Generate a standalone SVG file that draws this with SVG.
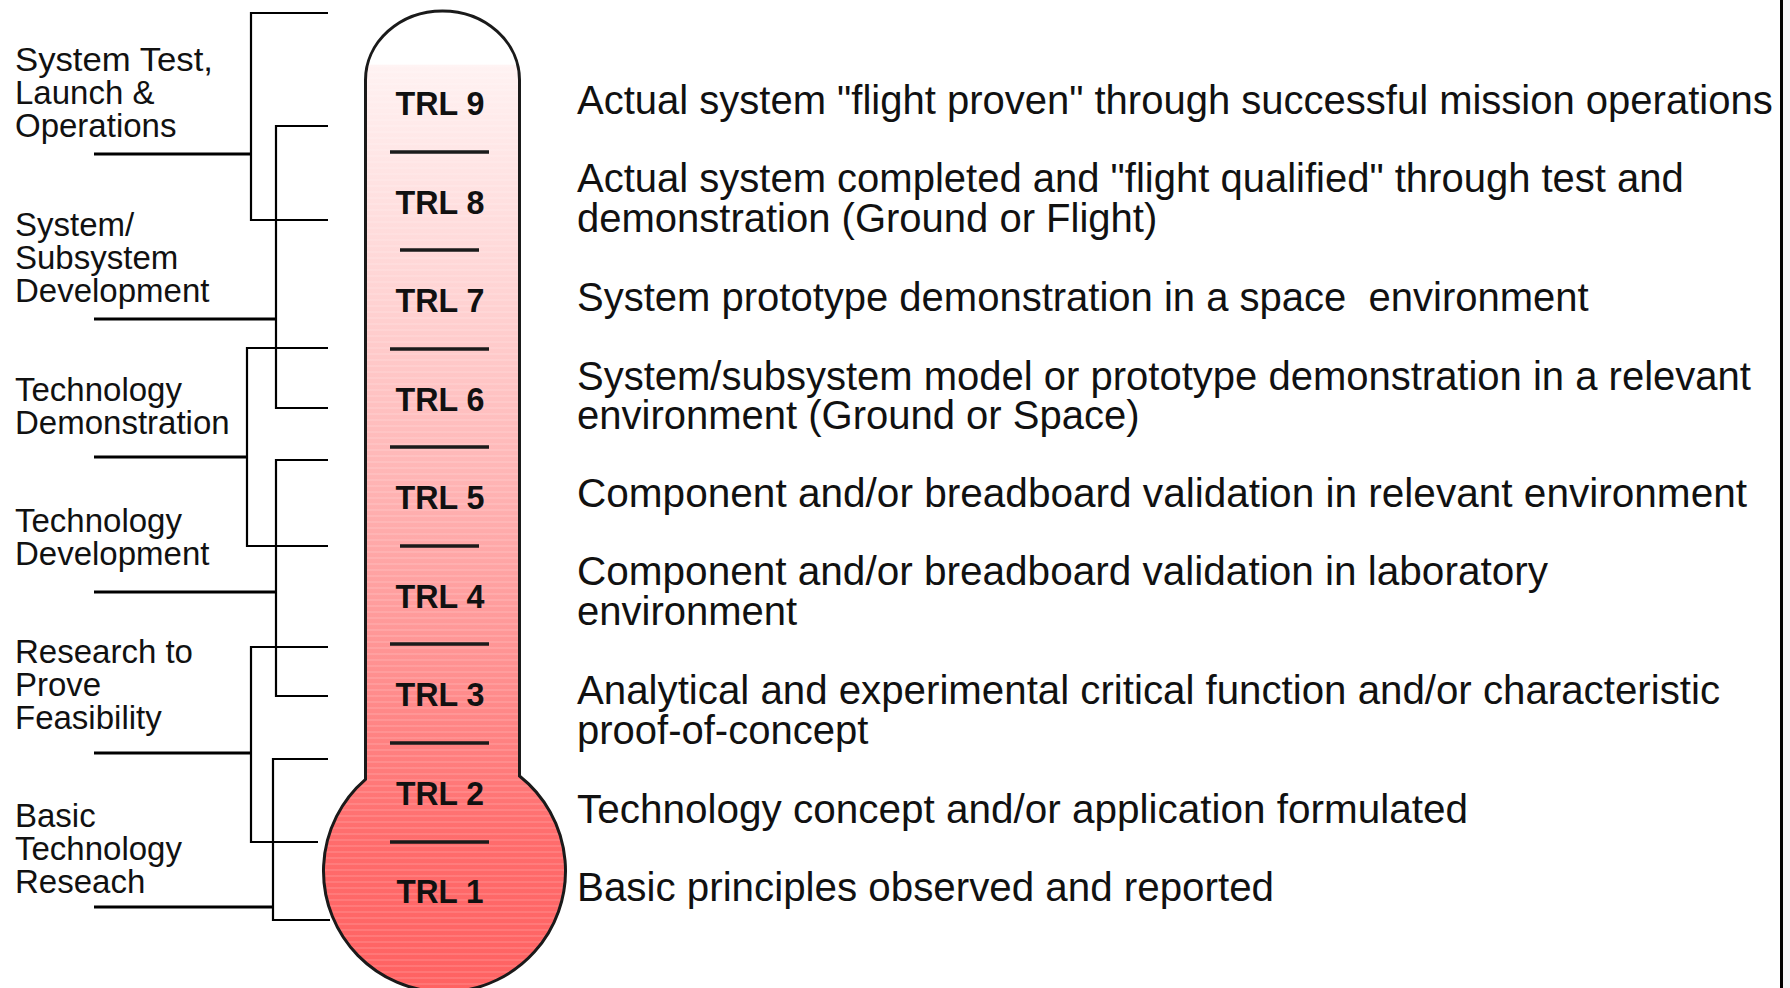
<svg xmlns="http://www.w3.org/2000/svg" width="1790" height="988" viewBox="0 0 1790 988">
<defs>
<linearGradient id="merc" gradientUnits="userSpaceOnUse" x1="0" y1="0" x2="0" y2="988">
<stop offset="0" stop-color="#ffffff"/>
<stop offset="0.065" stop-color="#ffffff"/>
<stop offset="0.066" stop-color="#fff2f2"/>
<stop offset="0.3" stop-color="#ffd3d3"/>
<stop offset="0.5" stop-color="#ffb2b2"/>
<stop offset="0.7" stop-color="#ff8c8c"/>
<stop offset="0.85" stop-color="#ff6c6c"/>
<stop offset="1" stop-color="#ff6262"/>
</linearGradient>
<pattern id="stripes" patternUnits="userSpaceOnUse" x="0" y="65" width="10" height="6">
<rect x="0" y="0" width="10" height="2" fill="#ffffff" opacity="0.12"/>
</pattern>
</defs>
<style>
.lab{font-family:"Liberation Sans",Arial,sans-serif;font-size:33px;fill:#111}
.desc{font-family:"Liberation Sans",Arial,sans-serif;font-size:40px;fill:#111}
.trl{font-family:"Liberation Sans",Arial,sans-serif;font-size:33px;font-weight:bold;fill:#111;text-anchor:middle}
.br{stroke:#000;stroke-width:2.2;fill:none}
.ll{stroke:#000;stroke-width:3.2;fill:none}
.div{stroke:#1a1a1a;stroke-width:3.5}
</style>
<rect x="0" y="0" width="1790" height="988" fill="#ffffff"/>
<rect x="1783" y="0" width="7" height="988" fill="#f4f4f7"/>
<line x1="1781.5" y1="0" x2="1781.5" y2="988" stroke="#000" stroke-width="3"/>

<g id="thermometer">
<path d="M365.5,779.3 V80 A77,69 0 0 1 519.5,80 V776 A121,121 0 1 1 365.5,779.3 Z" fill="url(#merc)"/>
<path d="M365.5,779.3 V80 A77,69 0 0 1 519.5,80 V776 A121,121 0 1 1 365.5,779.3 Z" fill="url(#stripes)" stroke="#1a1a1a" stroke-width="3"/>
<line class="div" x1="390" y1="152" x2="489" y2="152"/>
<line class="div" x1="400" y1="250" x2="479" y2="250"/>
<line class="div" x1="390" y1="349" x2="489" y2="349"/>
<line class="div" x1="390" y1="447" x2="489" y2="447"/>
<line class="div" x1="400" y1="546" x2="479" y2="546"/>
<line class="div" x1="390" y1="644" x2="489" y2="644"/>
<line class="div" x1="390" y1="743" x2="489" y2="743"/>
<line class="div" x1="390" y1="842" x2="489" y2="842"/>
</g>

<g id="trl9"><text class="trl" x="440" y="115" textLength="89" lengthAdjust="spacingAndGlyphs">TRL 9</text>
<text class="desc" x="577" y="114">Actual system "flight proven" through successful mission operations</text></g>
<g id="trl8"><text class="trl" x="440" y="213.5" textLength="89" lengthAdjust="spacingAndGlyphs">TRL 8</text>
<text class="desc" x="577" y="192">Actual system completed and "flight qualified" through test and</text>
<text class="desc" x="577" y="232">demonstration (Ground or Flight)</text></g>
<g id="trl7"><text class="trl" x="440" y="312" textLength="89" lengthAdjust="spacingAndGlyphs">TRL 7</text>
<text class="desc" x="577" y="311" xml:space="preserve">System prototype demonstration in a space  environment</text></g>
<g id="trl6"><text class="trl" x="440" y="410.5" textLength="89" lengthAdjust="spacingAndGlyphs">TRL 6</text>
<text class="desc" x="577" y="390">System/subsystem model or prototype demonstration in a relevant</text>
<text class="desc" x="577" y="429">environment (Ground or Space)</text></g>
<g id="trl5"><text class="trl" x="440" y="509" textLength="89" lengthAdjust="spacingAndGlyphs">TRL 5</text>
<text class="desc" x="577" y="507" textLength="1170" lengthAdjust="spacingAndGlyphs">Component and/or breadboard validation in relevant environment</text></g>
<g id="trl4"><text class="trl" x="440" y="607.5" textLength="89" lengthAdjust="spacingAndGlyphs">TRL 4</text>
<text class="desc" x="577" y="585" textLength="971" lengthAdjust="spacingAndGlyphs">Component and/or breadboard validation in laboratory</text>
<text class="desc" x="577" y="625">environment</text></g>
<g id="trl3"><text class="trl" x="440" y="706" textLength="89" lengthAdjust="spacingAndGlyphs">TRL 3</text>
<text class="desc" x="577" y="704" textLength="1143" lengthAdjust="spacingAndGlyphs">Analytical and experimental critical function and/or characteristic</text>
<text class="desc" x="577" y="744">proof-of-concept</text></g>
<g id="trl2"><text class="trl" x="440" y="804.5" textLength="88" lengthAdjust="spacingAndGlyphs">TRL 2</text>
<text class="desc" x="577" y="823" textLength="891" lengthAdjust="spacingAndGlyphs">Technology concept and/or application formulated</text></g>
<g id="trl1"><text class="trl" x="440" y="903" textLength="87" lengthAdjust="spacingAndGlyphs">TRL 1</text>
<text class="desc" x="577" y="901" textLength="697" lengthAdjust="spacingAndGlyphs">Basic principles observed and reported</text></g>

<g id="phase-system-test"><text class="lab" x="15" y="71" textLength="198" lengthAdjust="spacingAndGlyphs">System Test,</text><text class="lab" x="15" y="104">Launch &amp;</text><text class="lab" x="15" y="137">Operations</text></g>
<g id="phase-subsystem"><text class="lab" x="15" y="236">System/</text><text class="lab" x="15" y="269">Subsystem</text><text class="lab" x="15" y="302">Development</text></g>
<g id="phase-tech-demo"><text class="lab" x="15" y="401">Technology</text><text class="lab" x="15" y="434">Demonstration</text></g>
<g id="phase-tech-dev"><text class="lab" x="15" y="532">Technology</text><text class="lab" x="15" y="565">Development</text></g>
<g id="phase-research"><text class="lab" x="15" y="663">Research to</text><text class="lab" x="15" y="696">Prove</text><text class="lab" x="15" y="729">Feasibility</text></g>
<g id="phase-basic"><text class="lab" x="15" y="827">Basic</text><text class="lab" x="15" y="860">Technology</text><text class="lab" x="15" y="893">Reseach</text></g>

<g id="connectors">
<polyline class="br" points="328,13 251,13 251,220 328,220"/>
<line class="ll" x1="94" y1="154" x2="251" y2="154"/>
<polyline class="br" points="328,126 276,126 276,408 328,408"/>
<line class="ll" x1="94" y1="319" x2="276" y2="319"/>
<polyline class="br" points="328,348 247,348 247,546 328,546"/>
<line class="ll" x1="94" y1="457" x2="247" y2="457"/>
<polyline class="br" points="328,460 276,460 276,696 328,696"/>
<line class="ll" x1="94" y1="592" x2="276" y2="592"/>
<polyline class="br" points="328,647 251,647 251,842 318,842"/>
<line class="ll" x1="94" y1="753" x2="251" y2="753"/>
<polyline class="br" points="328,759 273,759 273,920 330,920"/>
<line class="ll" x1="94" y1="907" x2="273" y2="907"/>
</g>
</svg>
